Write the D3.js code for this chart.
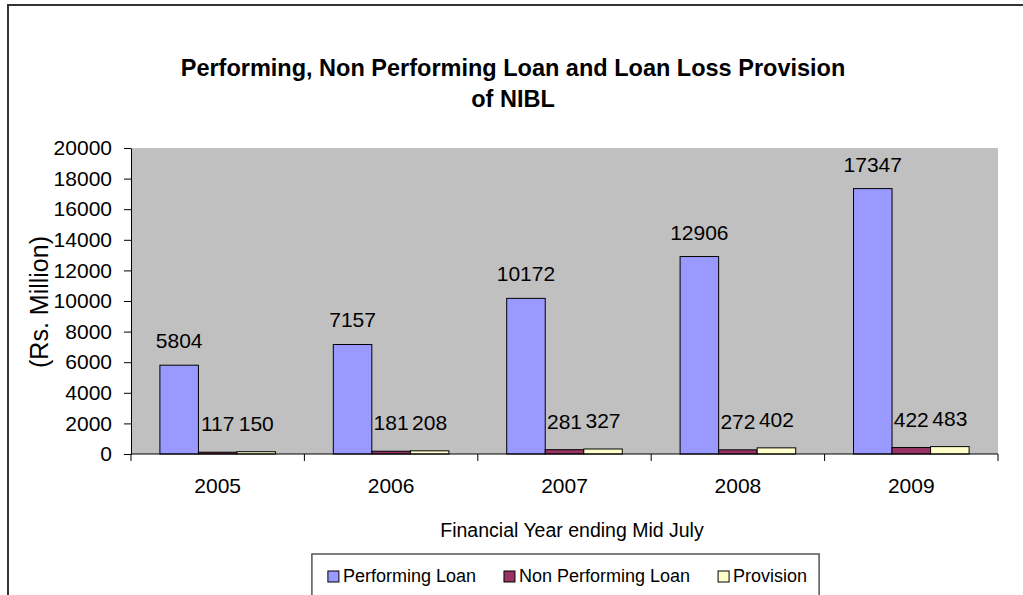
<!DOCTYPE html>
<html>
<head>
<meta charset="utf-8">
<script src="https://cdn.jsdelivr.net/npm/d3@7"></script>
<style>
  body { margin: 0; background: #fff; }
  text { font-family: "Liberation Sans", Arial, sans-serif; fill: #000; }
</style>
</head>
<body>
<div id="chart"></div>
<script>
const years = ["2005", "2006", "2007", "2008", "2009"];
const seriesNames = ["Performing Loan", "Non Performing Loan", "Provision"];
const performing = [5804, 7157, 10172, 12906, 17347];
const nonPerforming = [117, 181, 281, 272, 422];
const provision = [150, 208, 327, 402, 483];
const yTicks = [0, 2000, 4000, 6000, 8000, 10000, 12000, 14000, 16000, 18000, 20000];
const colors = ["#9999FF", "#993366", "#FFFFCC"];

const W = 1023, H = 595;
const plot = { left: 131, right: 998, top: 148, bottom: 454 };

const svg = d3.select("#chart").append("svg")
  .attr("width", W).attr("height", H);

// outer chart border (runs off the right and bottom edges)
svg.append("rect")
  .attr("x", 8).attr("y", 5)
  .attr("width", 1040).attr("height", 620)
  .attr("fill", "#fff").attr("stroke", "#333").attr("stroke-width", 2);

// title
const title = svg.append("text")
  .attr("text-anchor", "middle")
  .attr("font-size", 23.5).attr("font-weight", "bold");
title.append("tspan").attr("x", 513).attr("y", 76)
  .text("Performing, Non Performing Loan and Loan Loss Provision");
title.append("tspan").attr("x", 513).attr("y", 107).text("of NIBL");

// scales
const x0 = d3.scaleBand().domain(years).range([plot.left, plot.right]);
const x1 = d3.scaleBand().domain(seriesNames)
  .range([0, x0.bandwidth()]).paddingInner(0).paddingOuter(0.75);
const y = d3.scaleLinear().domain([0, 20000]).range([plot.bottom, plot.top]);

// plot area
svg.append("rect")
  .attr("x", plot.left).attr("y", plot.top)
  .attr("width", plot.right - plot.left).attr("height", plot.bottom - plot.top)
  .attr("fill", "#C0C0C0");

// data table
const seriesValues = [performing, nonPerforming, provision];
const rows = [];
years.forEach((yr, i) => {
  seriesNames.forEach((s, j) => {
    rows.push({ year: yr, series: s, value: seriesValues[j][i], idx: j });
  });
});

// bars
svg.append("g").selectAll("rect")
  .data(rows)
  .enter()
  .append("rect")
  .attr("x", (d) => x0(d.year) + x1(d.series))
  .attr("y", (d) => y(d.value))
  .attr("width", x1.bandwidth())
  .attr("height", (d) => y(0) - y(d.value))
  .attr("fill", (d) => colors[d.idx])
  .attr("stroke", "#000")
  .attr("stroke-width", 1);

// value labels
svg.append("g").selectAll("text")
  .data(rows)
  .enter()
  .append("text")
  .attr("x", (d) => x0(d.year) + x1(d.series) + x1.bandwidth() / 2)
  .attr("y", (d) => y(d.value) - (d.idx === 0 ? 17 : 21))
  .attr("text-anchor", "middle")
  .attr("font-size", 21)
  .text((d) => d.value);

// y axis
const yAxis = svg.append("g")
  .attr("transform", `translate(${plot.left},0)`)
  .call(d3.axisLeft(y).tickValues(yTicks).tickFormat(d3.format("d"))
    .tickSize(7).tickPadding(12).tickSizeOuter(0));
yAxis.select(".domain").attr("stroke", "#000");
yAxis.selectAll("line").attr("stroke", "#000");
yAxis.selectAll("text").attr("font-size", 21)
  .attr("font-family", "Liberation Sans, Arial, sans-serif");

// x axis: line, ticks at category boundaries, labels at centres
const xg = svg.append("g");
xg.append("line")
  .attr("x1", plot.left).attr("x2", plot.right)
  .attr("y1", plot.bottom).attr("y2", plot.bottom)
  .attr("stroke", "#000");
const bounds = years.map((d) => x0(d)).concat([x0.range()[1]]);
xg.selectAll("line.tick")
  .data(bounds)
  .enter()
  .append("line")
  .attr("class", "tick")
  .attr("x1", (d) => d).attr("x2", (d) => d)
  .attr("y1", plot.bottom).attr("y2", plot.bottom + 7)
  .attr("stroke", "#000");
xg.selectAll("text")
  .data(years)
  .enter()
  .append("text")
  .attr("x", (d) => x0(d) + x0.bandwidth() / 2)
  .attr("y", 493)
  .attr("text-anchor", "middle")
  .attr("font-size", 21)
  .text((d) => d);

// axis titles
svg.append("text")
  .attr("x", 572).attr("y", 537)
  .attr("text-anchor", "middle")
  .attr("font-size", 19.5)
  .text("Financial Year ending Mid July");

svg.append("text")
  .attr("transform", "translate(48,302) rotate(-90)")
  .attr("text-anchor", "middle")
  .attr("font-size", 25)
  .text("(Rs. Million)");

// legend
const legend = svg.append("g");
const legendBox = legend.append("rect")
  .attr("y", 554).attr("height", 60)
  .attr("fill", "#fff").attr("stroke", "#555").attr("stroke-width", 1.5);
let lx = 0;
const items = [];
seriesNames.forEach((s, i) => {
  const g = legend.append("g");
  g.append("rect")
    .attr("x", 0).attr("y", 571)
    .attr("width", 11).attr("height", 11)
    .attr("fill", colors[i]).attr("stroke", "#000");
  const t = g.append("text")
    .attr("x", 15).attr("y", 582)
    .attr("font-size", 18)
    .text(s);
  const w = 15 + t.node().getComputedTextLength();
  g.attr("transform", `translate(${lx},0)`);
  items.push(g);
  lx += w + 28;
});
const totalW = lx - 28;
const lStart = (plot.left + plot.right) / 2 - totalW / 2 + 3;
items.forEach((g) => {
  const cur = g.attr("transform").match(/translate\(([-\d.]+)/)[1];
  g.attr("transform", `translate(${lStart + +cur},0)`);
});
legendBox.attr("x", lStart - 16).attr("width", totalW + 28);
</script>
</body>
</html>
